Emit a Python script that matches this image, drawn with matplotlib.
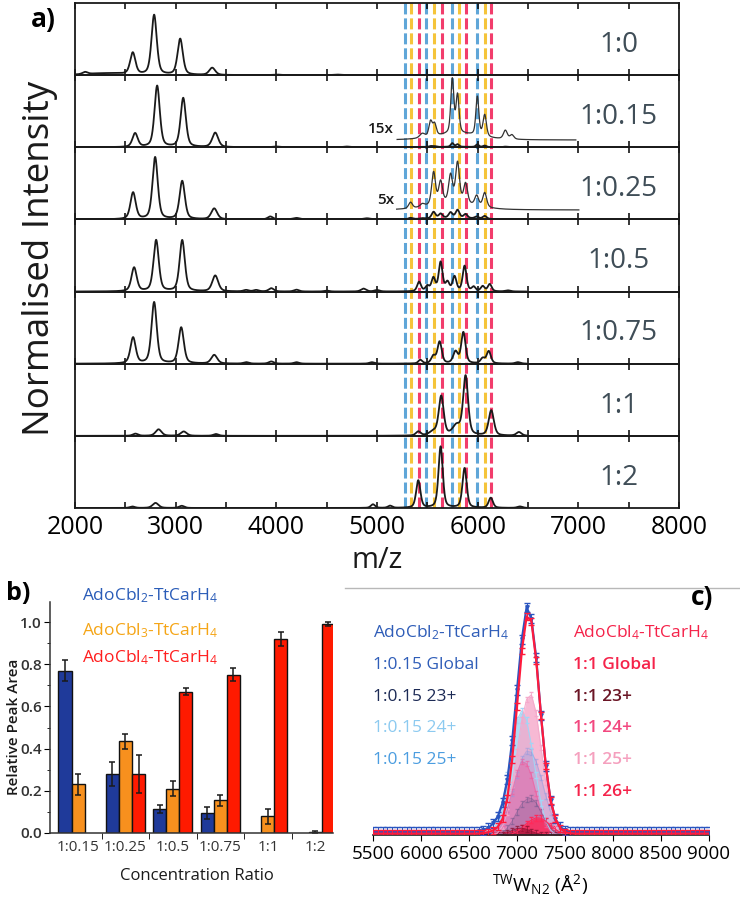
import numpy as np
import matplotlib
matplotlib.use("Agg")
import matplotlib.pyplot as plt
from matplotlib.lines import Line2D
from matplotlib.ticker import MultipleLocator

plt.rcParams['font.family'] = ['Open Sans', 'DejaVu Sans']
plt.rcParams['mathtext.fontset'] = 'custom'
plt.rcParams['mathtext.rm'] = 'Open Sans'
plt.rcParams['mathtext.it'] = 'Open Sans'
plt.rcParams['mathtext.bf'] = 'Open Sans:bold'
plt.rcParams['mathtext.default'] = 'regular'

# ---------------- panel a data ----------------
ratio_labels = ["1:0", "1:0.15", "1:0.25", "1:0.5", "1:0.75", "1:1", "1:2"]

# peak tables (m/z, relative height, fwhm)
peaks_1_0 = [(2100, 0.03, 60), (2300, 0.025, 450), (2574, 0.30, 62), (2786, 0.83, 62),
             (3045, 0.50, 62), (3363, 0.10, 70), (4000, 0.008, 80), (4600, 0.008, 80)]
peaks_1_015 = [(2597, 0.19, 62), (2816, 0.85, 62), (3075, 0.68, 62), (3393, 0.20, 70),
               (4000, 0.01, 80), (4700, 0.01, 80),
               (5450, 0.004, 60), (5532, 0.014, 40), (5572, 0.011, 40), (5748, 0.05, 35),
               (5800, 0.035, 35), (5997, 0.036, 35), (6070, 0.02, 40), (6275, 0.008, 45),
               (6340, 0.004, 45), (5800, 0.006, 500)]
peaks_1_025 = [(2577, 0.37, 62), (2796, 0.86, 62), (3065, 0.53, 62), (3383, 0.15, 70),
               (3940, 0.04, 60), (4200, 0.02, 80), (4900, 0.015, 80),
               (5333, 0.017, 45), (5450, 0.008, 50), (5562, 0.09, 45), (5632, 0.06, 45),
               (5731, 0.075, 45), (5800, 0.11, 45), (5880, 0.055, 45), (5990, 0.028, 45),
               (6070, 0.04, 45), (5750, 0.02, 500)]
peaks_1_05 = [(2587, 0.33, 62), (2806, 0.71, 62), (3065, 0.71, 62), (3393, 0.22, 70),
              (3700, 0.02, 60), (3800, 0.02, 60), (3950, 0.045, 60), (4200, 0.025, 60),
              (4500, 0.012, 60), (4866, 0.04, 60), (5000, 0.02, 60),
              (5418, 0.13, 45), (5500, 0.07, 45), (5560, 0.18, 45), (5632, 0.40, 45),
              (5700, 0.12, 45), (5770, 0.20, 45), (5870, 0.35, 45), (5960, 0.06, 45),
              (6050, 0.07, 45), (6120, 0.10, 45), (6300, 0.015, 60)]
peaks_1_075 = [(2577, 0.36, 62), (2786, 0.85, 62), (3055, 0.50, 62), (3383, 0.12, 70),
               (3700, 0.02, 60), (3950, 0.03, 60), (4200, 0.02, 60), (4950, 0.02, 60),
               (5430, 0.05, 45), (5560, 0.10, 50), (5622, 0.30, 50), (5780, 0.16, 55),
               (5858, 0.43, 50), (6050, 0.07, 50), (6110, 0.17, 50), (6400, 0.02, 60)]
peaks_1_1 = [(2600, 0.03, 60), (2830, 0.09, 70), (3080, 0.06, 70), (3400, 0.025, 60),
             (5410, 0.055, 55), (5560, 0.05, 90), (5638, 0.54, 58), (5790, 0.13, 90),
             (5880, 0.82, 58), (6135, 0.35, 60), (6410, 0.05, 60)]
peaks_1_2 = [(2570, 0.02, 60), (2800, 0.07, 70), (3060, 0.03, 60), (4960, 0.05, 50),
             (5130, 0.03, 50), (5410, 0.38, 50), (5632, 0.85, 50), (5870, 0.55, 50),
             (6130, 0.14, 50), (6420, 0.02, 60)]
row_peaks = [peaks_1_0, peaks_1_015, peaks_1_025, peaks_1_05, peaks_1_075, peaks_1_1, peaks_1_2]

# magnified insets: row index, factor, label, m/z range, vertical offset
inset_rows = [1, 2]
inset_factor = [15, 5]
inset_label = ["15x", "5x"]
inset_range = [(5200, 6975), (5195, 7005)]
inset_offset = [0.10, 0.13]

guide_mz = [5277, 5340, 5420, 5490, 5565, 5642, 5741, 5814, 5881, 5990, 6072, 6132]
guide_colors = ["#5fa6d8", "#f5c43a", "#f23d6c"] * 4

# ---------------- panel b data ----------------
b_ratios = ["1:0.15", "1:0.25", "1:0.5", "1:0.75", "1:1", "1:2"]
b_cbl2 = [0.77, 0.28, 0.115, 0.095, np.nan, np.nan]
b_cbl2_err = [0.05, 0.055, 0.02, 0.03, 0, 0]
b_cbl3 = [0.23, 0.435, 0.21, 0.155, 0.08, 0.005]
b_cbl3_err = [0.05, 0.035, 0.035, 0.025, 0.035, 0.005]
b_cbl4 = [np.nan, 0.28, 0.67, 0.75, 0.92, 0.99]
b_cbl4_err = [0, 0.09, 0.015, 0.03, 0.035, 0.01]

# ---------------- panel c data ----------------
ccs = np.arange(5500, 9001, 50)
ccs_core = np.arange(6600, 7601, 50)
blue_global = [0.013] * 22 + [0.016, 0.02, 0.03, 0.05, 0.08, 0.14, 0.24, 0.41, 0.63, 0.85, 0.99,
                              0.94, 0.77, 0.52, 0.30, 0.15, 0.07, 0.035, 0.02, 0.015, 0.013] + [0.013] * 28
red_global = [0.006] * 22 + [0.006, 0.008, 0.012, 0.02, 0.035, 0.07, 0.16, 0.33, 0.56, 0.80, 0.95,
                             0.93, 0.76, 0.52, 0.30, 0.15, 0.07, 0.03, 0.012, 0.008, 0.006] + [0.006] * 28
blue_24 = [0, 0, 0.005, 0.02, 0.06, 0.14, 0.26, 0.39, 0.50, 0.54, 0.50, 0.39, 0.26, 0.14, 0.06, 0.02, 0.005, 0, 0, 0, 0]
pink_25 = [0, 0, 0, 0, 0.01, 0.04, 0.10, 0.22, 0.36, 0.50, 0.59, 0.61, 0.53, 0.38, 0.23, 0.11, 0.04, 0.01, 0, 0, 0]
blue_25 = [0, 0, 0, 0.01, 0.03, 0.06, 0.11, 0.18, 0.26, 0.33, 0.365, 0.36, 0.32, 0.25, 0.17, 0.10, 0.05, 0.02, 0.005, 0, 0]
pink_24 = [0, 0, 0, 0.005, 0.02, 0.05, 0.11, 0.19, 0.27, 0.32, 0.31, 0.26, 0.18, 0.10, 0.045, 0.015, 0.005, 0, 0, 0, 0]
blue_23 = [0, 0, 0, 0, 0, 0.01, 0.03, 0.06, 0.10, 0.135, 0.155, 0.16, 0.14, 0.10, 0.06, 0.03, 0.01, 0, 0, 0, 0]
red_26 = [0, 0, 0, 0, 0, 0, 0, 0.005, 0.015, 0.03, 0.05, 0.065, 0.075, 0.073, 0.06, 0.042, 0.025, 0.012, 0.005, 0, 0]
red_23 = [0, 0, 0, 0, 0, 0.003, 0.01, 0.02, 0.028, 0.03, 0.025, 0.016, 0.008, 0.003, 0, 0, 0, 0, 0, 0, 0]

c_left_labels = [r"AdoCbl$_2$-TtCarH$_4$", "1:0.15 Global", "1:0.15 23+", "1:0.15 24+", "1:0.15 25+"]
c_left_colors = ["#2f5db8", "#2f5db8", "#1c2a55", "#8ccaf0", "#4b9de0"]
c_right_labels = [r"AdoCbl$_4$-TtCarH$_4$", "1:1 Global", "1:1 23+", "1:1 24+", "1:1 25+", "1:1 26+"]
c_right_colors = ["#f5234a", "#f5234a", "#6b1525", "#f2477f", "#f5a0be", "#f5234a"]


def spectrum(peaks, x):
    y = np.zeros_like(x)
    for p, h, w in peaks:
        d = (x - p) / w
        y += h * (0.55 * np.exp(-4 * np.log(2) * d ** 2) + 0.45 / (1 + 4 * d ** 2))
    return y


W, H = 740, 901
fig = plt.figure(figsize=(W / 100, H / 100), dpi=100)


def fx(px):
    return px / W


def fy(py):
    return 1 - py / H


# ---------------- panel a ----------------
aL, aR, aT, aB = 75, 679, 3, 508
rowh = (aB - aT) / 7
ov = fig.add_axes([fx(aL), fy(aB), fx(aR - aL), (aB - aT) / H], zorder=0)
ov.set_xlim(2000, 8000)
ov.set_ylim(0, 1)
ov.axis('off')
for m, c in zip(guide_mz, guide_colors):
    ov.axvline(m, color=c, lw=2.2, dashes=(3.6, 1.3))

mz = np.linspace(2000, 6480, 2241)
for i, peaks in enumerate(row_peaks):
    top = aT + rowh * i
    ax = fig.add_axes([fx(aL), fy(top + rowh), fx(aR - aL), rowh / H], zorder=1)
    ax.patch.set_alpha(0)
    ax.set_xlim(2000, 8000)
    ax.set_ylim(0, 1)
    ax.set_yticks([])
    ax.xaxis.set_major_locator(MultipleLocator(1000))
    ax.xaxis.set_minor_locator(MultipleLocator(500))
    ax.tick_params(axis='x', which='both', direction='in', length=4, width=1.1,
                   top=True, bottom=True, labelbottom=(i == 6), labelsize=18, pad=5)
    for s in ax.spines.values():
        s.set_linewidth(1.3)
        s.set_color('#1a1a1a')
    ax.plot(mz, spectrum(peaks, mz), color='#1a1a1a', lw=1.3)
    if i in inset_rows:
        k = inset_rows.index(i)
        lo, hi = inset_range[k]
        xs = np.linspace(lo, hi, 900)
        hp = [p for p in peaks if p[0] > 5000]
        ax.plot(xs, inset_offset[k] + inset_factor[k] * spectrum(hp, xs), color='#333333', lw=0.9)
        ax.text(5170, 0.25 if k == 0 else 0.27, inset_label[k], fontsize=11, fontweight='semibold',
                ha='right', va='center', color='#1a1a1a')
    ax.text(7400, 0.42, ratio_labels[i], fontsize=20, color='#3f4d57', ha='center', va='center')

fig.text(fx(40), fy(258), "Normalised Intensity", rotation=90, fontsize=26.5,
         ha='center', va='center', color='#1a1a1a')
fig.text(fx(377), fy(560), "m/z", fontsize=21, ha='center', va='center', color='#1a1a1a')
fig.text(fx(43), fy(20), "a)", fontsize=19, fontweight='bold', ha='center', va='center')

# ---------------- panel b ----------------
axb = fig.add_axes([fx(50), fy(833), fx(283), (833 - 602) / H])
xb = np.arange(len(b_ratios))
bw = 0.274
ekw = dict(elinewidth=1.1, capthick=1.1, ecolor='#1a1a1a')
axb.bar(xb - bw, b_cbl2, bw, color='#1f3a9a', edgecolor='#111111', lw=1,
        yerr=b_cbl2_err, capsize=2.5, error_kw=ekw)
axb.bar(xb, b_cbl3, bw, color='#f7901e', edgecolor='#111111', lw=1,
        yerr=b_cbl3_err, capsize=2.5, error_kw=ekw)
axb.bar(xb + bw, b_cbl4, bw, color='#ff1a00', edgecolor='#111111', lw=1,
        yerr=b_cbl4_err, capsize=2.5, error_kw=ekw)
axb.set_xlim(-0.59, 5.37)
axb.set_ylim(0, 1.095)
for s in ['top', 'right']:
    axb.spines[s].set_visible(False)
for s in ['left', 'bottom']:
    axb.spines[s].set_linewidth(1.1)
    axb.spines[s].set_color('#333333')
axb.set_yticks(np.arange(0, 1.01, 0.2))
axb.set_yticklabels([f"{v:.1f}" for v in np.arange(0, 1.01, 0.2)], fontweight='semibold', color='#333333')
axb.yaxis.set_minor_locator(MultipleLocator(0.1))
axb.tick_params(axis='y', which='major', direction='out', length=4, labelsize=11, pad=2)
axb.tick_params(axis='y', which='minor', direction='out', length=2)
axb.set_xticks(xb)
axb.set_xticklabels(b_ratios, color='#333333')
axb.set_xticks(np.arange(0.5, 5, 1), minor=True)
axb.tick_params(axis='x', which='major', length=0, labelsize=11, pad=5)
axb.tick_params(axis='x', which='minor', direction='out', length=4)
fig.text(fx(197), fy(876), "Concentration Ratio", fontsize=12, ha='center', va='center', color='#1a1a1a')
fig.text(fx(14), fy(727), "Relative Peak Area", rotation=90, fontsize=11, fontweight='semibold',
         ha='center', va='center', color='#1a1a1a')
fig.text(fx(18), fy(593), "b)", fontsize=18, fontweight='bold', ha='center', va='center')
for lab, col, yy in zip([r"AdoCbl$_2$-TtCarH$_4$", r"AdoCbl$_3$-TtCarH$_4$", r"AdoCbl$_4$-TtCarH$_4$"],
                        ['#2a5cb8', '#f5a516', '#ff1e1e'], [596, 631, 658]):
    fig.text(fx(82), fy(yy), lab, fontsize=12.5, color=col, ha='left', va='center')

# ---------------- panel c ----------------
axc = fig.add_axes([fx(373), fy(835), fx(336), (835 - 590) / H])
axc.set_xlim(5500, 9000)
axc.set_ylim(0, 1.065)
axc.set_yticks([])
for s in ['top', 'right', 'left']:
    axc.spines[s].set_visible(False)
axc.spines['bottom'].set_linewidth(1.2)
axc.spines['bottom'].set_color('#222222')
axc.xaxis.set_major_locator(MultipleLocator(500))
axc.tick_params(axis='x', direction='out', length=4, labelsize=13.5, pad=3)

fills = [(blue_24, '#a3d5f5', 0.85), (pink_25, '#f5a8ca', 0.8), (blue_25, '#8a98e0', 0.3),
         (pink_24, '#ef5fa0', 0.5), (blue_23, '#504a80', 0.22), (red_26, '#ff2a5a', 0.85),
         (red_23, '#8a1030', 0.6)]
for vals, col, a in fills:
    axc.fill_between(ccs_core, 0, vals, color=col, alpha=a, lw=0)
    axc.errorbar(ccs_core, vals, yerr=0.012, color=col, lw=0.8, elinewidth=0.6, capsize=1.5,
                 alpha=min(1, a + 0.15))

axc.errorbar(ccs, blue_global, yerr=0.02, color='#2a55c0', lw=1.6, elinewidth=0.8,
             capsize=2, marker='v', ms=2.5, zorder=5)
axc.errorbar(ccs, red_global, yerr=0.015, color='#ff1a3c', lw=1.6, elinewidth=0.8,
             capsize=2, zorder=6)

for lab, col, k in zip(c_left_labels, c_left_colors, range(5)):
    fig.text(fx(373), fy(633 + 31.8 * k), lab, fontsize=12.5, color=col, ha='left', va='center')
for lab, col, k in zip(c_right_labels, c_right_colors, range(6)):
    fig.text(fx(573), fy(633 + 31.8 * k), lab, fontsize=12.5, color=col, ha='left', va='center',
             fontweight='semibold' if k > 0 else 'normal')

fig.text(fx(540), fy(884), r"$^{\rm TW}$W$_{\rm N2}$ (Å$^2$)", fontsize=14, ha='center', va='center')
fig.add_artist(Line2D([fx(345), 1.0], [fy(588), fy(588)], color='#b8b8b8', lw=1))
fig.text(fx(702), fy(597), "c)", fontsize=19, fontweight='bold', ha='center', va='center')

fig.savefig("out.png", dpi=100)
